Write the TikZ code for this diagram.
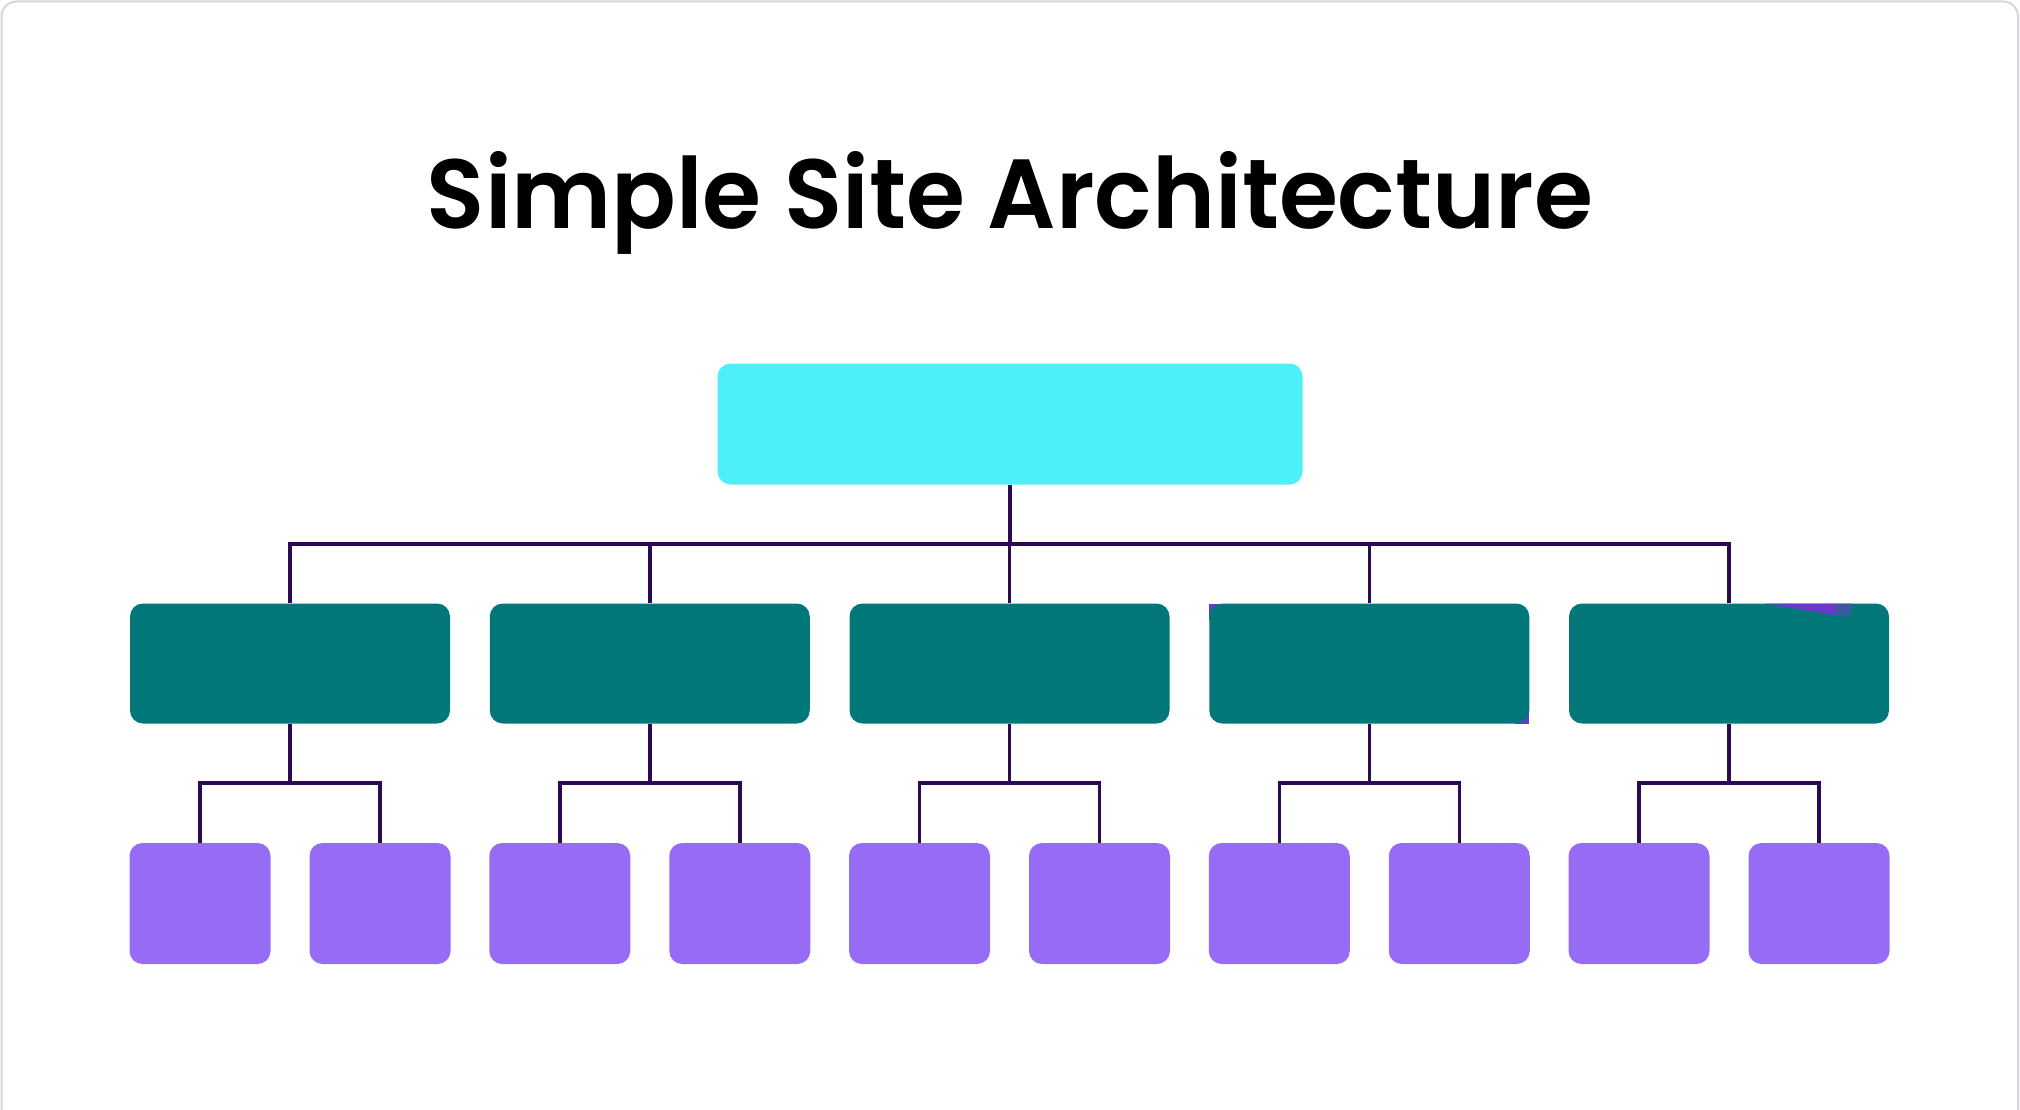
\documentclass[tikz,border=0pt]{standalone}
\usepackage{fontspec}
\newfontfamily\titlefont{Poppins}[UprightFont={* SemiBold}]
\definecolor{cyanbox}{HTML}{4DF0F6}
\definecolor{tealbox}{HTML}{02777A}
\definecolor{purplebox}{HTML}{966CF5}
\definecolor{linkcol}{HTML}{2B0A52}
\definecolor{framecol}{HTML}{D6D6DE}
\definecolor{artpurple}{HTML}{6E38CE}
\definecolor{artblue}{HTML}{3C5AA2}
\tikzset{
  lvlzero/.style={rectangle, rounded corners=13pt, fill=cyanbox, minimum width=585pt, minimum height=121pt, inner sep=0pt},
  lvlone/.style={rectangle, rounded corners=13pt, fill=tealbox, minimum width=320pt, minimum height=120pt, inner sep=0pt},
  lvltwo/.style={rectangle, rounded corners=13pt, fill=purplebox, minimum width=141pt, minimum height=121pt, inner sep=0pt},
  link/.style={draw=linkcol, line width=3.5pt},
  framebox/.style={draw=framecol, line width=2pt, rounded corners=15pt}
}
\begin{document}
\begin{tikzpicture}[x=1pt,y=-1pt]
\useasboundingbox (0,0) rectangle (2020,1110);
\begin{scope}
  \clip (0,0) rectangle (2020,1110);
  \draw[framebox] (1.5,1.5) rectangle (2018,1150);
\end{scope}
\node[anchor=base] (title) at (1010,229) {\resizebox{1166pt}{77pt}{\titlefont Simple Site Architecture}};
% small purple marks behind the fourth box
\fill[artpurple] (1209.25,603.5) rectangle ++(14,16);
\fill[artpurple] (1529.25,723.5) rectangle ++(-14,-14);
\node[lvlzero] (top) at (1010,424) {};
\draw[link] (top.south) -- ++(0,59.2) coordinate (j0);
\foreach \i/\x in {1/290,2/649.75,3/1009.5,4/1369.25,5/1729}{
  \node[lvlone] (m\i) at (\x,663.5) {};
  \node[lvltwo] (l\i a) at (\x-90,903.5) {};
  \node[lvltwo] (l\i b) at (\x+90,903.5) {};
  \draw[link] (m\i.north) |- (j0);
  \draw[link] (m\i.south) -- ++(0,59.5) coordinate (k\i);
  \draw[link] (l\i a.north) |- (k\i);
  \draw[link] (l\i b.north) |- (k\i);
}
% small marks on the fifth box
\fill[artpurple] (1765,603.5) -- (1837,603.5) -- (1835,615) -- cycle;
\fill[artblue] (1837,603.5) -- (1853,603.5) -- (1849,617) -- (1835,615) -- cycle;
\end{tikzpicture}
\end{document}
